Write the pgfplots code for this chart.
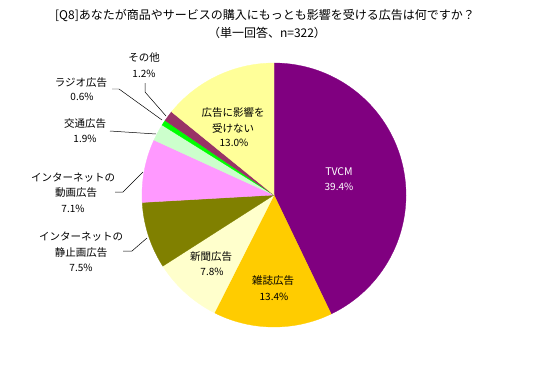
\documentclass[border=0pt]{standalone}
\usepackage{pgfplots}
\pgfplotsset{compat=1.18}
\usepackage{pgfplotstable}
\usepackage{fontspec}
\setmainfont{Noto Sans CJK JP}

\definecolor{c0}{HTML}{800080}
\definecolor{c1}{HTML}{FFCC00}
\definecolor{c2}{HTML}{FFFFCC}
\definecolor{c3}{HTML}{808000}
\definecolor{c4}{HTML}{FF99FF}
\definecolor{c5}{HTML}{CCFFCC}
\definecolor{c6}{HTML}{00FF00}
\definecolor{c7}{HTML}{993366}
\definecolor{c8}{HTML}{FFFF99}

% share (%) of each slice, clockwise from 12 o'clock
\pgfplotstableread{
idx value
0 39.4
1 13.4
2 7.8
3 7.5
4 7.1
5 1.9
6 0.6
7 1.2
8 13.0
}\pietable

\gdef\pietotal{0}
\foreach \i in {0,...,8}{%
  \pgfplotstablegetelem{\i}{value}\of\pietable
  \pgfmathsetmacro\tmp{\pietotal+\pgfplotsretval}%
  \xdef\pietotal{\tmp}%
}
\gdef\pierun{0}
\foreach \i in {0,...,8}{%
  \pgfplotstablegetelem{\i}{value}\of\pietable
  \pgfmathsetmacro\s{\pierun/\pietotal*360}%
  \pgfmathsetmacro\e{(\pierun+\pgfplotsretval)/\pietotal*360}%
  \expandafter\xdef\csname pieS\i\endcsname{\s}%
  \expandafter\xdef\csname pieE\i\endcsname{\e}%
  \pgfmathsetmacro\r{\pierun+\pgfplotsretval}%
  \xdef\pierun{\r}%
}

\newcommand\lab{\fontsize{10.5bp}{12bp}\selectfont}
\newcommand\pct{\fontsize{10bp}{12bp}\selectfont}

\begin{document}
\begin{tikzpicture}
\begin{axis}[
  width=537bp, height=373bp, scale only axis,
  xmin=0, xmax=537, ymin=0, ymax=373, y dir=reverse,
  hide axis, clip=false]
\path (rel axis cs:0,0) rectangle (rel axis cs:1,1);
\pgfplotsinvokeforeach{0,...,8}{%
  \addplot[fill=c#1, draw=c#1, line width=0.3pt,
    domain=\csname pieS#1\endcsname:\csname pieE#1\endcsname,
    samples=90, variable=\t]
    ({274+132*sin(\t)},{195-132*cos(\t)}) -- (axis cs:274,195) -- cycle;
}
% title
\node[font=\fontsize{12bp}{14bp}\selectfont] at (axis cs:265,16) {[Q8]あなたが商品やサービスの購入にもっとも影響を受ける広告は何ですか？};
\node[font=\fontsize{12bp}{14bp}\selectfont] at (axis cs:267,33) {（単一回答、n=322）};
% labels
\node[font=\lab, text=white] at (axis cs:339,172) {TVCM};
\node[font=\pct, text=white] at (axis cs:339,187) {39.4\%};
\node[font=\lab] at (axis cs:273,281) {雑誌広告};
\node[font=\pct] at (axis cs:274,297) {13.4\%};
\node[font=\lab] at (axis cs:211,257) {新聞広告};
\node[font=\pct] at (axis cs:212,272) {7.8\%};
\node[font=\lab] at (axis cs:81,237) {インターネットの};
\node[font=\lab] at (axis cs:81,253) {静止画広告};
\node[font=\pct] at (axis cs:81,268) {7.5\%};
\node[font=\lab] at (axis cs:73,178) {インターネットの};
\node[font=\lab] at (axis cs:76,193) {動画広告};
\node[font=\pct] at (axis cs:73,209) {7.1\%};
\node[font=\lab] at (axis cs:85,124) {交通広告};
\node[font=\pct] at (axis cs:85,139) {1.9\%};
\node[font=\lab] at (axis cs:81,83) {ラジオ広告};
\node[font=\pct] at (axis cs:82,97) {0.6\%};
\node[font=\lab] at (axis cs:144,58) {その他};
\node[font=\pct] at (axis cs:144,74) {1.2\%};
\node[font=\lab] at (axis cs:233,113) {広告に影響を};
\node[font=\lab] at (axis cs:233,128) {受けない};
\node[font=\pct] at (axis cs:234,143) {13.0\%};
% leader lines
\draw[black, line width=0.5pt] (axis cs:145,83) -- (axis cs:145,92) -- (axis cs:166,116);
\draw[black, line width=0.5pt] (axis cs:112,89) -- (axis cs:119,89) -- (axis cs:162,120);
\draw[black, line width=0.5pt] (axis cs:110,131) -- (axis cs:125,132) -- (axis cs:156,134);
\draw[black, line width=0.5pt] (axis cs:115,192) -- (axis cs:123,192) -- (axis cs:143,172);
\draw[black, line width=0.5pt] (axis cs:123,251) -- (axis cs:132,251) -- (axis cs:147,238);
\end{axis}
\end{tikzpicture}
\end{document}
